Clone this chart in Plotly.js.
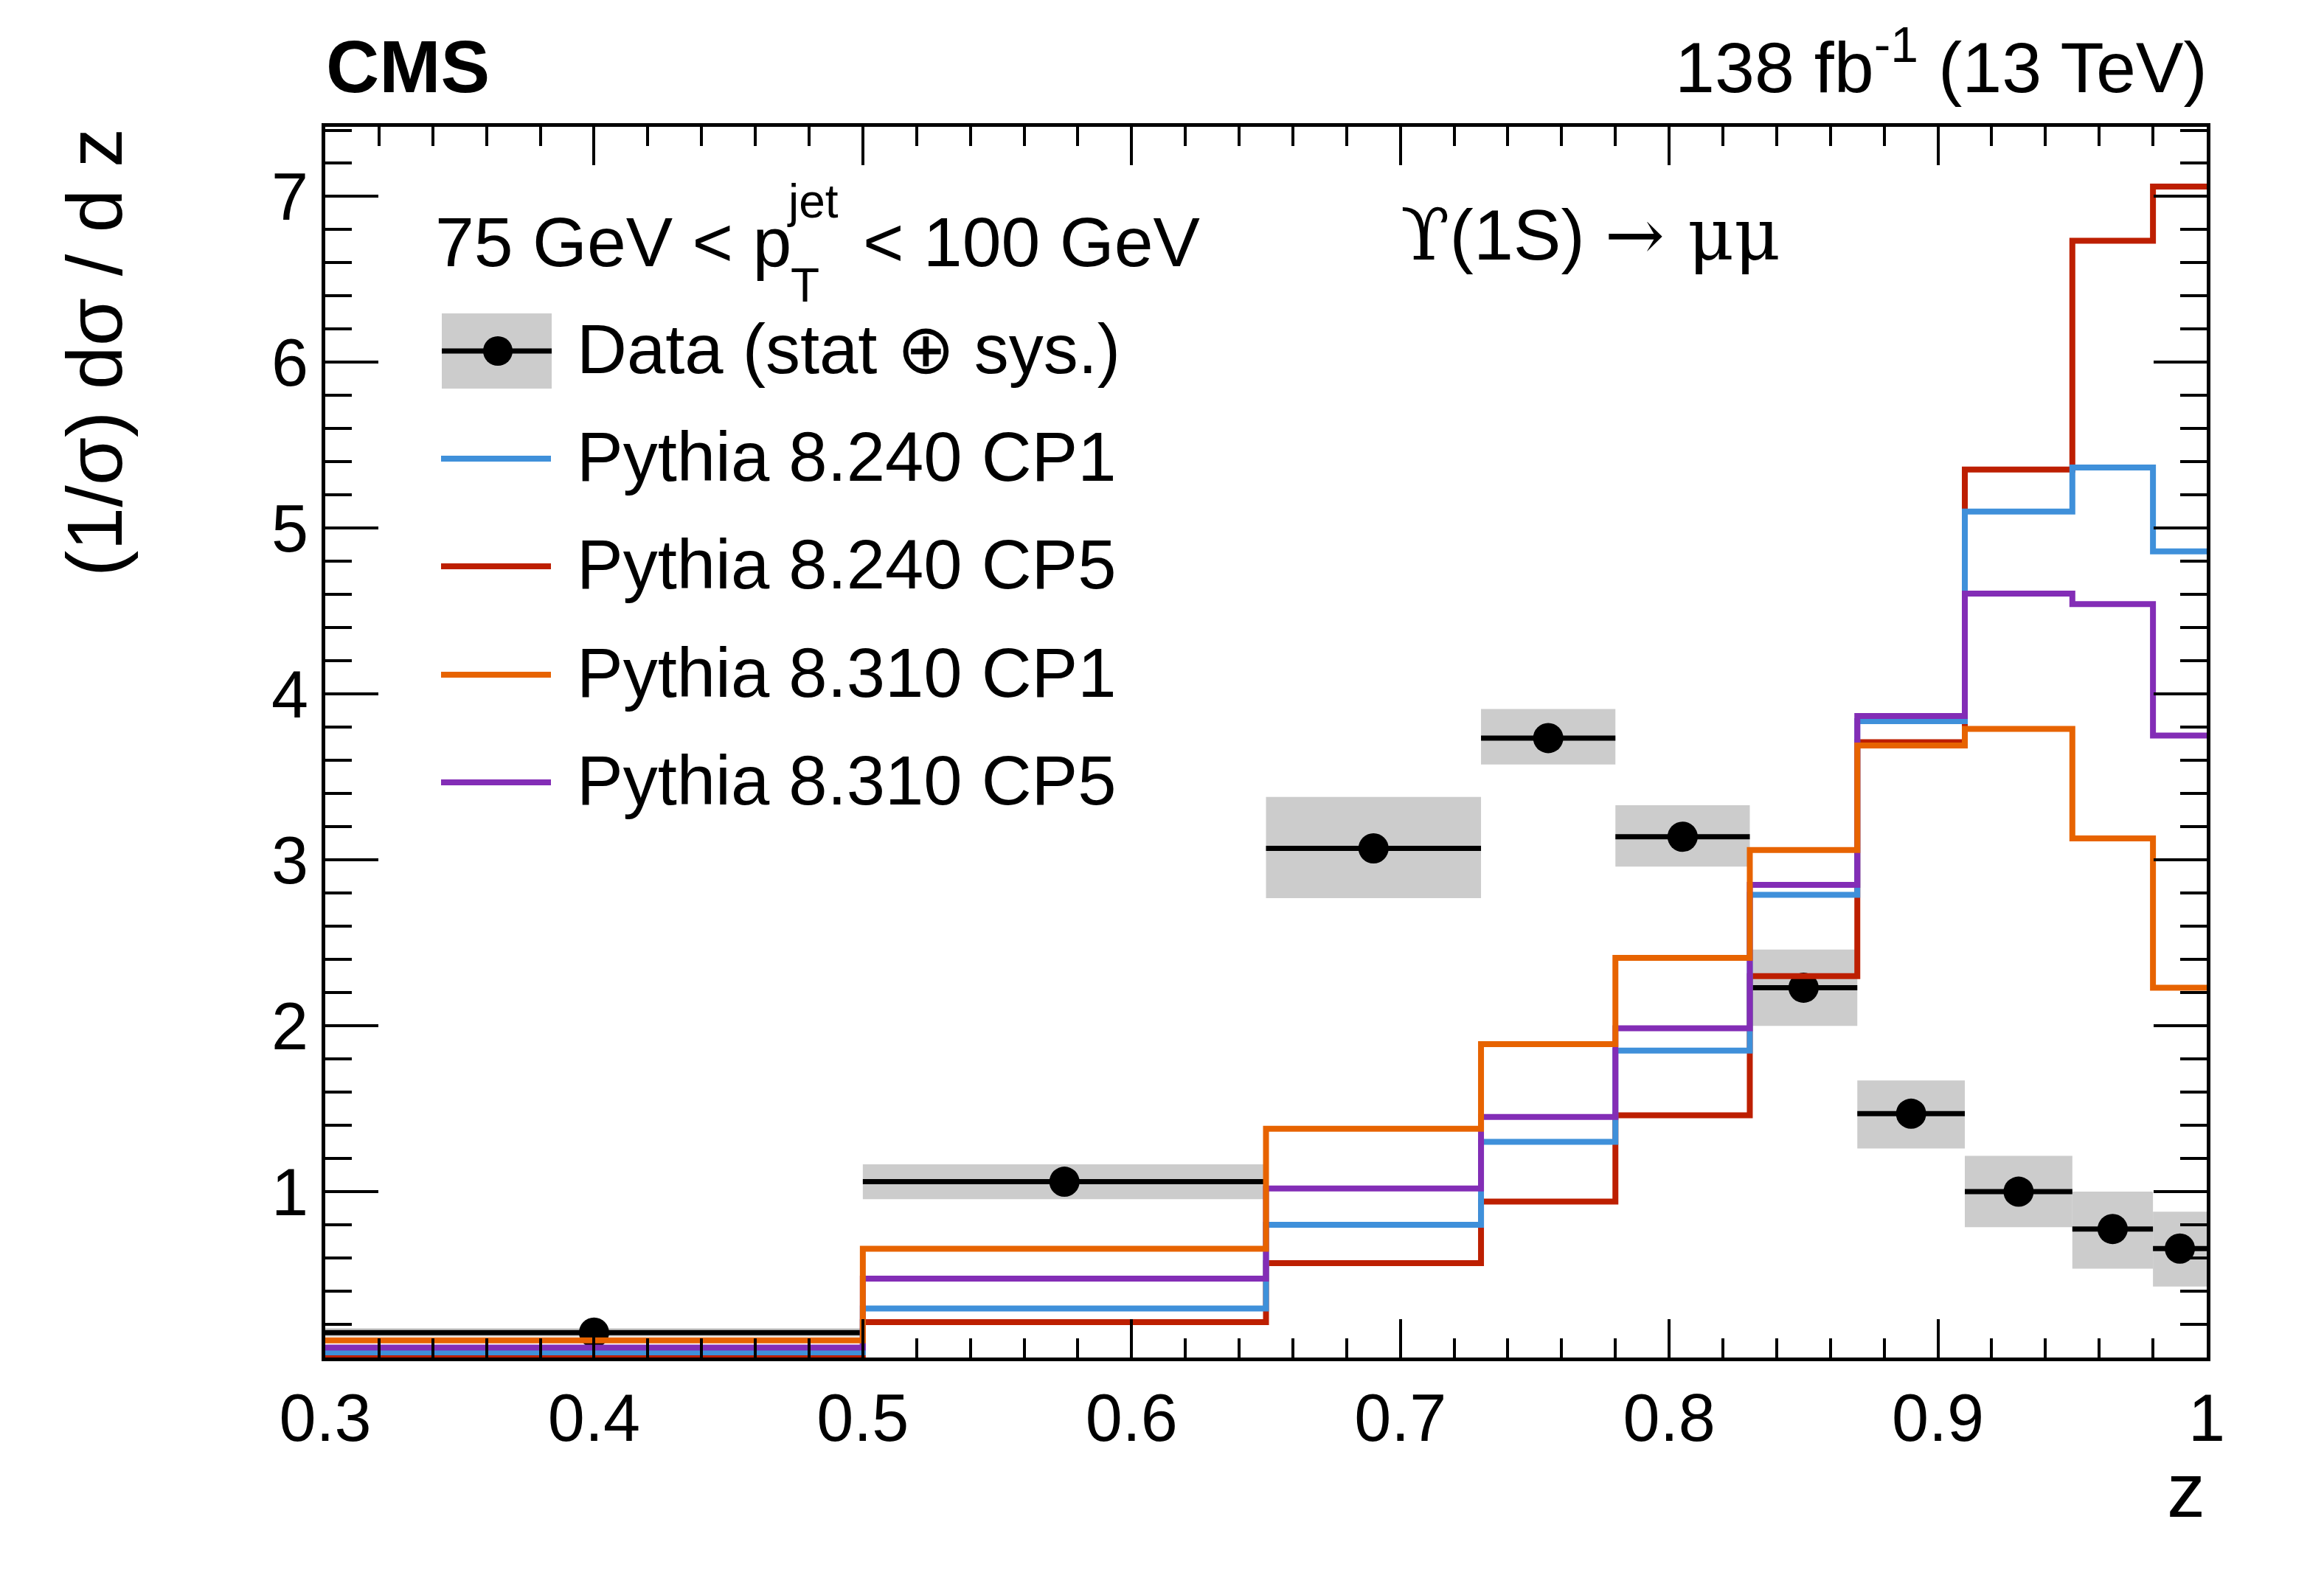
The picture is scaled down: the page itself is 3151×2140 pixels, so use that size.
<!DOCTYPE html>
<html><head><meta charset="utf-8">
<script src="https://cdn.plot.ly/plotly-3.0.1.min.js"></script>
<style>html,body{margin:0;padding:0;background:#fff;}</style>
</head><body>
<div id="chart" style="width:3151px;height:2140px;"></div>
<script>
// ---- data ----
const binEdges = [0.3, 0.5, 0.65, 0.73, 0.78, 0.83, 0.87, 0.91, 0.95, 0.98, 1.0];
const dataValues  = [0.15, 1.06, 3.07, 3.735, 3.14, 2.23, 1.47, 1.00, 0.775, 0.657];
const dataSysLow  = [0.127, 0.955, 2.77, 3.575, 2.96, 2.00, 1.26, 0.786, 0.536, 0.428];
const dataSysHigh = [0.177, 1.165, 3.38, 3.91, 3.33, 2.46, 1.67, 1.216, 1.00, 0.879];
const pythia8240CP1 = [0.031, 0.296, 0.80, 1.30, 1.85, 2.79, 3.837, 5.10, 5.366, 4.86];
const pythia8240CP5 = [0.008, 0.213, 0.569, 0.94, 1.46, 2.30, 3.71, 5.354, 6.733, 7.06];
const pythia8310CP1 = [0.103, 0.656, 1.379, 1.89, 2.41, 3.06, 3.69, 3.79, 3.13, 2.23];
const pythia8310CP5 = [0.060, 0.476, 1.019, 1.45, 1.985, 2.85, 3.868, 4.606, 4.542, 3.75];
const xTickVals = [0.3, 0.4, 0.5, 0.6, 0.7, 0.8, 0.9, 1.0];
const xTickText = ["0.3", "0.4", "0.5", "0.6", "0.7", "0.8", "0.9", "1"];
const yTickVals = [1, 2, 3, 4, 5, 6, 7];
const yTickText = ["1", "2", "3", "4", "5", "6", "7"];
const legendLabels = ["Data (stat \u2295 sys.)", "Pythia 8.240 CP1", "Pythia 8.240 CP5", "Pythia 8.310 CP1", "Pythia 8.310 CP5"];

// ---- derived ----
const centers = binEdges.slice(0, -1).map((e, i) => (e + binEdges[i + 1]) / 2);
const widths = binEdges.slice(0, -1).map((e, i) => binEdges[i + 1] - e);
const halfW = widths.map(w => w / 2);
const stepY = v => v.concat([v[v.length - 1]]);

const FONT = "Liberation Sans, Arial, Helvetica, sans-serif";
const colors = {cp1_240: "#3f90da", cp5_240: "#bd1f01", cp1_310: "#e76300", cp5_310: "#832db6"};

// plot frame in pixels
const W = 3151, H = 2140, L = 441, R = 2992, T = 172, B = 1841;
const px = x => (x - L) / (R - L);
const py = y => (B - y) / (B - T);

const traces = [
  {type: "bar", x: centers, y: dataSysHigh.map((h, i) => h - dataSysLow[i]), base: dataSysLow,
   width: widths, marker: {color: "#cccccc", line: {width: 0}}, hoverinfo: "skip"},
  {type: "scatter", mode: "markers", x: centers, y: dataValues,
   marker: {color: "#000", size: 41},
   error_x: {type: "data", array: halfW, thickness: 7, width: 0, color: "#000"}},
  {type: "scatter", mode: "lines", x: binEdges, y: stepY(pythia8240CP5), line: {shape: "hv", color: colors.cp5_240, width: 8}},
  {type: "scatter", mode: "lines", x: binEdges, y: stepY(pythia8240CP1), line: {shape: "hv", color: colors.cp1_240, width: 8}},
  {type: "scatter", mode: "lines", x: binEdges, y: stepY(pythia8310CP5), line: {shape: "hv", color: colors.cp5_310, width: 8}},
  {type: "scatter", mode: "lines", x: binEdges, y: stepY(pythia8310CP1), line: {shape: "hv", color: colors.cp1_310, width: 8}}
];

// legend (manual, ROOT style)
const legRows = [476, 622, 768, 915, 1061];
const legColors = [null, colors.cp1_240, colors.cp5_240, colors.cp1_310, colors.cp5_310];
const shapes = [
  {type: "rect", xref: "paper", yref: "paper", x0: px(599), x1: px(748), y0: py(527), y1: py(425),
   fillcolor: "#cccccc", line: {width: 0}},
  {type: "line", xref: "paper", yref: "paper", x0: px(599), x1: px(748), y0: py(476), y1: py(476),
   line: {color: "#000", width: 7}},
  {type: "circle", xref: "paper", yref: "paper", x0: px(655), x1: px(695), y0: py(496), y1: py(456),
   fillcolor: "#000", line: {width: 0}}
];
for (let i = 1; i < legRows.length; i++) {
  shapes.push({type: "line", xref: "paper", yref: "paper", x0: px(598), x1: px(747),
    y0: py(legRows[i]), y1: py(legRows[i]), line: {color: legColors[i], width: 8}});
}

const ann = (text, x, y, xa, ya, size, extra) => Object.assign({
  text: text, xref: "paper", yref: "paper", x: px(x), y: py(y), xanchor: xa, yanchor: ya,
  showarrow: false, font: {family: FONT, size: size, color: "#000"}
}, extra || {});

const annotations = [
  ann("<b>CMS</b>", 440, 148, "left", "bottom", 100),
  ann("138 fb<sup>-1</sup> (13 TeV)", 2995, 148, "right", "bottom", 97),
  ann("75 GeV < p", 588, 383, "left", "bottom", 95),
  ann("jet", 1065, 311, "left", "bottom", 64),
  ann("T", 1070, 425, "left", "bottom", 64),
  ann("< 100 GeV", 1168, 383, "left", "bottom", 95),
  ann("<span style=\"font-family:'DejaVu Serif'\">\u03d2</span>(1S) <span style=\"font-family:'DejaVu Serif'\">\u2192 \u03bc\u03bc</span>",
      1897, 377, "left", "bottom", 97),
  ann("(1/\u03c3) d\u03c3 / d z", 128, 172, "center", "top", 106, {textangle: -90}),
  ann("z", 2992, 2081, "right", "bottom", 104)
];
for (let i = 0; i < legRows.length; i++) {
  annotations.push(ann(legendLabels[i], 780, legRows[i] - 3, "left", "middle", 94));
}

const axisCommon = {
  showline: true, linewidth: 5, linecolor: "#000", mirror: "allticks",
  ticks: "inside", tickcolor: "#000", tickwidth: 4, showgrid: false, zeroline: false,
  tickmode: "array", tickfont: {family: FONT, size: 90, color: "#000"}
};

const layout = {
  width: W, height: H, margin: {l: L, r: W - R, t: T, b: H - B, pad: 0},
  paper_bgcolor: "#fff", plot_bgcolor: "#fff", showlegend: false, barmode: "overlay",
  xaxis: Object.assign({}, axisCommon, {range: [0.3, 1.0], tickvals: xTickVals, ticktext: xTickText,
    ticklen: 52, minor: {tickmode: "linear", tick0: 0.3, dtick: 0.02, ticklen: 26, tickwidth: 4, tickcolor: "#000", ticks: "inside"}}),
  yaxis: Object.assign({}, axisCommon, {range: [0, 7.42], tickvals: yTickVals, ticktext: yTickText,
    ticklen: 72, minor: {tickmode: "linear", tick0: 0, dtick: 0.2, ticklen: 36, tickwidth: 4, tickcolor: "#000", ticks: "inside"}}),
  shapes: shapes, annotations: annotations
};

Plotly.newPlot("chart", traces, layout, {staticPlot: true, displayModeBar: false});
</script>
</body></html>
